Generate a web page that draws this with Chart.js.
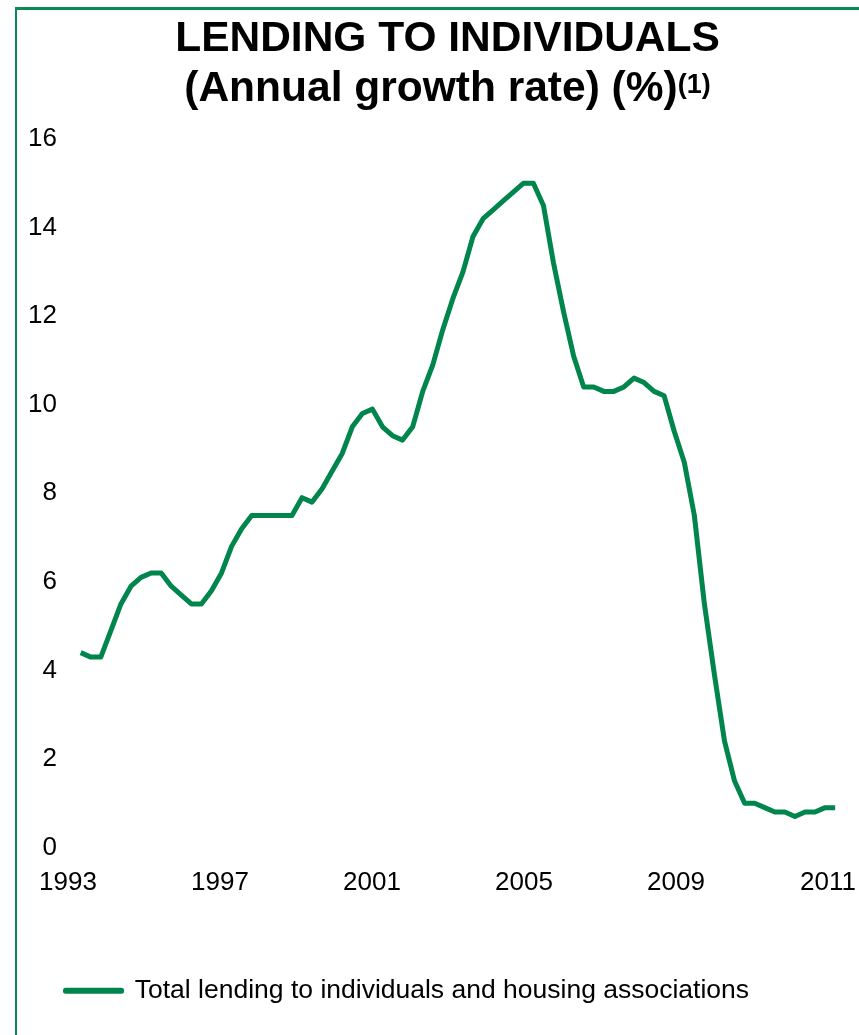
<!DOCTYPE html>
<html>
<head>
<meta charset="utf-8">
<script src="https://cdn.jsdelivr.net/npm/chart.js@4"></script>
<style>
  html, body { margin: 0; padding: 0; background: #fff; }
  #wrap { position: relative; width: 859px; height: 1035px; overflow: hidden; }
  #frame { position: absolute; left: 15px; top: 7px; width: 900px; height: 1100px;
           border-left: 2px solid #0b8a56; border-top: 3px solid #0b8a56; }
  #title { position: absolute; left: 36px; top: 12px; width: 823px; text-align: center;
           font: bold 42.5px "Liberation Sans", Arial, sans-serif; line-height: 50px; color: #000; z-index: 2; }
  #title sup { font-size: 27px; vertical-align: 8px; line-height: 0; }
  canvas { position: absolute; left: 0; top: 0; }
</style>
</head>
<body>
<div id="wrap">
  <div id="frame"></div>
  <div id="title">LENDING TO INDIVIDUALS<br>(Annual growth rate) (%)<sup>(1)</sup></div>
  <canvas id="lendingChart" width="859" height="1035"></canvas>
</div>
<script>
// quarterly annual growth rate, 1993 Q1 .. 2011 Q4
const growth = [
  4.4, 4.3, 4.3, 4.9, 5.5, 5.9, 6.1, 6.2, 6.2, 5.9, 5.7, 5.5, 5.5, 5.8, 6.2, 6.8,
  7.2, 7.5, 7.5, 7.5, 7.5, 7.5, 7.9, 7.8, 8.1, 8.5, 8.9, 9.5, 9.8, 9.9, 9.5, 9.3,
  9.2, 9.5, 10.3, 10.9, 11.7, 12.4, 13.0, 13.8, 14.2, 14.4, 14.6, 14.8, 15.0, 15.0, 14.5, 13.2,
  12.1, 11.1, 10.4, 10.4, 10.3, 10.3, 10.4, 10.6, 10.5, 10.3, 10.2, 9.4, 8.7, 7.5, 5.5, 3.9,
  2.4, 1.5, 1.0, 1.0, 0.9, 0.8, 0.8, 0.7, 0.8, 0.8, 0.9, 0.9
];
const yearTicks = ['1993', '1997', '2001', '2005', '2009', '2011'];
const seriesName = 'Total lending to individuals and housing associations';

const green = '#00854d';

Chart.defaults.font.family = '"Liberation Sans", Arial, sans-serif';
Chart.defaults.color = '#000';

const ctx = document.getElementById('lendingChart').getContext('2d');

new Chart(ctx, {
    type: 'line',
    data: {
        datasets: [{
            label: seriesName,
            data: growth.map((v, i) => ({ x: i, y: v })),
            borderColor: green,
            backgroundColor: green,
            borderWidth: 5,
            borderJoinStyle: 'round',
            pointRadius: 0,
            tension: 0,
            xAxisID: 'x',
            yAxisID: 'y'
        }]
    },
    options: {
        responsive: false,
        animation: false,
        layout: { padding: { left: 28, right: 19, top: 139, bottom: 21 } },
        scales: {
            x: {
                type: 'linear',
                display: false,
                min: -1.262,
                max: 75.48
            },
            years: {
                type: 'linear',
                position: 'bottom',
                min: 0,
                max: 5.079,
                grid: { display: false, drawTicks: false },
                border: { display: false },
                ticks: {
                    stepSize: 1,
                    includeBounds: false,
                    autoSkip: false,
                    padding: 20,
                    maxRotation: 0,
                    font: { size: 26 },
                    callback: (v) => yearTicks[v]
                },
                afterFit: (scale) => {
                    scale.height = 92.5;
                    scale.paddingLeft = 0;
                    scale.paddingRight = 0;
                }
            },
            y: {
                min: 0,
                max: 16,
                grid: { display: false, drawTicks: false },
                border: { display: false },
                ticks: {
                    stepSize: 2,
                    padding: 11,
                    font: { size: 26 }
                },
                afterFit: (scale) => { scale.width = 40; }
            }
        },
        plugins: {
            legend: {
                position: 'bottom',
                align: 'start',
                labels: {
                    boxWidth: 56,
                    boxHeight: 1,
                    padding: 37.5,
                    font: { size: 26.5 },
                    color: '#000'
                }
            },
            tooltip: { enabled: false }
        }
    }
});
</script>
</body>
</html>
